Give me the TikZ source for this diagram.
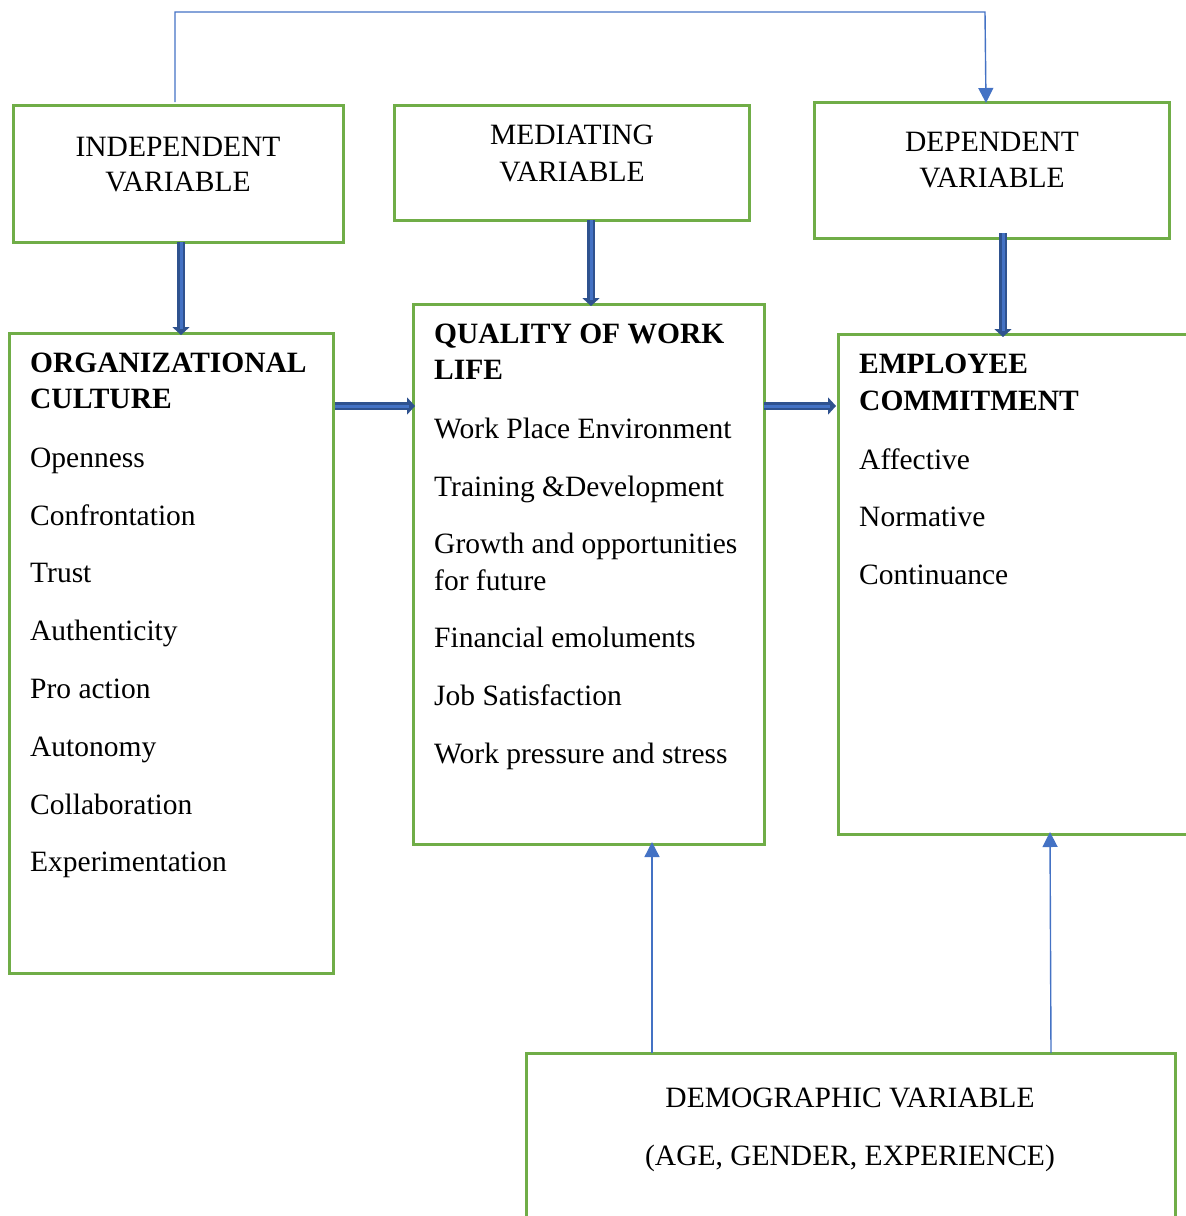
\documentclass[tikz,border=0pt]{standalone}
\usepackage{fontspec}
\setmainfont{Liberation Serif}
\usetikzlibrary{arrows.meta}
\definecolor{boxgreen}{HTML}{70AD47}
\definecolor{linkblue}{HTML}{4472C4}
\definecolor{darkblue}{HTML}{2F528F}
\tikzset{
  frame/.style={draw=boxgreen, line width=2.6pt, inner sep=0pt},
  txt/.style={inner sep=0pt, font=\fontsize{29.5}{34}\selectfont, anchor=base west},
  ctxt/.style={inner sep=0pt, font=\fontsize{29.5}{34}\selectfont, anchor=base},
  btxt/.style={txt, font=\fontsize{29.5}{34}\selectfont\bfseries},
  thin link/.style={draw=linkblue, line width=1.4pt, -{Triangle[length=15pt,width=15pt]}},
  fat outer/.style={draw=darkblue, line width=8pt, -{Triangle[length=8pt,width=17pt]}},
  fat inner/.style={draw=linkblue, line width=3pt, shorten >=6pt}
}
\newcommand{\fatarrow}[2]{%
  \draw[fat outer] (#1) -- (#2);
  \draw[fat inner] (#1) -- (#2);}
\begin{document}
\begin{tikzpicture}[x=1pt,y=-1pt]
\useasboundingbox (0,0) rectangle (1186,1216);
\begin{scope}
\clip (0,0) rectangle (1186,1216);
% header boxes
\node[frame, anchor=north west, minimum width=330pt, minimum height=137pt] (ind) at (12,104) {};
\node[frame, anchor=north west, minimum width=355pt, minimum height=115pt] (med) at (393,104) {};
\node[frame, anchor=north west, minimum width=355pt, minimum height=136pt] (dep) at (813,101) {};
% content boxes
\node[frame, anchor=north west, minimum width=324pt, minimum height=640pt] (oc) at (8,332) {};
\node[frame, anchor=north west, minimum width=351pt, minimum height=540pt] (qwl) at (412,303) {};
\node[frame, anchor=north west, minimum width=380pt, minimum height=500pt] (ec) at (837,333) {};
\node[frame, anchor=north west, minimum width=649pt, minimum height=220pt] (demo) at (525,1052) {};
\end{scope}

% header texts
\node[ctxt] (indA) at (178,156) {INDEPENDENT};
\node[ctxt] (indB) at (178,191) {VARIABLE};
\node[ctxt] (medA) at (572,144) {MEDIATING};
\node[ctxt] (medB) at (572,181) {VARIABLE};
\node[ctxt] (depA) at (992,151) {DEPENDENT};
\node[ctxt] (depB) at (992,187) {VARIABLE};

% organizational culture
\node[btxt] (ocA) at (30,372) {ORGANIZATIONAL};
\node[btxt] (ocB) at (30,408) {CULTURE};
\node[txt] (oc1) at (30,467) {Openness};
\node[txt] (oc2) at (30,525) {Confrontation};
\node[txt] (oc3) at (30,582) {Trust};
\node[txt] (oc4) at (30,640) {Authenticity};
\node[txt] (oc5) at (30,698) {Pro action};
\node[txt] (oc6) at (30,756) {Autonomy};
\node[txt] (oc7) at (30,814) {Collaboration};
\node[txt] (oc8) at (30,871) {Experimentation};

% quality of work life
\node[btxt] (qwlA) at (434,343) {QUALITY OF WORK};
\node[btxt] (qwlB) at (434,379) {LIFE};
\node[txt] (q1) at (434,438) {Work Place Environment};
\node[txt] (q2) at (434,496) {Training \&Development};
\node[txt] (q3) at (434,553) {Growth and opportunities};
\node[txt] (q3b) at (434,590) {for future};
\node[txt] (q4) at (434,647) {Financial emoluments};
\node[txt] (q5) at (434,705) {Job Satisfaction};
\node[txt] (q6) at (434,763) {Work pressure and stress};

% employee commitment
\node[btxt] (ecA) at (859,373) {EMPLOYEE};
\node[btxt] (ecB) at (859,410) {COMMITMENT};
\node[txt] (e1) at (859,469) {Affective};
\node[txt] (e2) at (859,526) {Normative};
\node[txt] (e3) at (859,584) {Continuance};

% demographic variable
\node[ctxt] (demoA) at (850,1107) {DEMOGRAPHIC VARIABLE};
\node[ctxt] (demoB) at (850,1165) {(AGE, GENDER, EXPERIENCE)};

% thick block arrows
\coordinate (s1) at (181,242); \coordinate (t1) at (181,335);
\coordinate (s2) at (591,220); \coordinate (t2) at (591,306);
\coordinate (s3) at (1003,233); \coordinate (t3) at (1003,337);
\coordinate (s4) at (335,406); \coordinate (t4) at (415,406);
\coordinate (s5) at (764,406); \coordinate (t5) at (836,406);
\fatarrow{s1}{t1}
\fatarrow{s2}{t2}
\fatarrow{s3}{t3}
\fatarrow{s4}{t4}
\fatarrow{s5}{t5}

% thin connectors
\coordinate (ta) at (175,102);
\coordinate (tb) at (986,103);
\draw[thin link] (ta) -- (175,12) -- (985,12) -- (tb);
\coordinate (da) at (652,1053); \coordinate (db) at (652,842);
\coordinate (dc) at (1051,1053); \coordinate (dd) at (1050,832);
\draw[thin link] (da) -- (db);
\draw[thin link] (dc) -- (dd);
\end{tikzpicture}
\end{document}
